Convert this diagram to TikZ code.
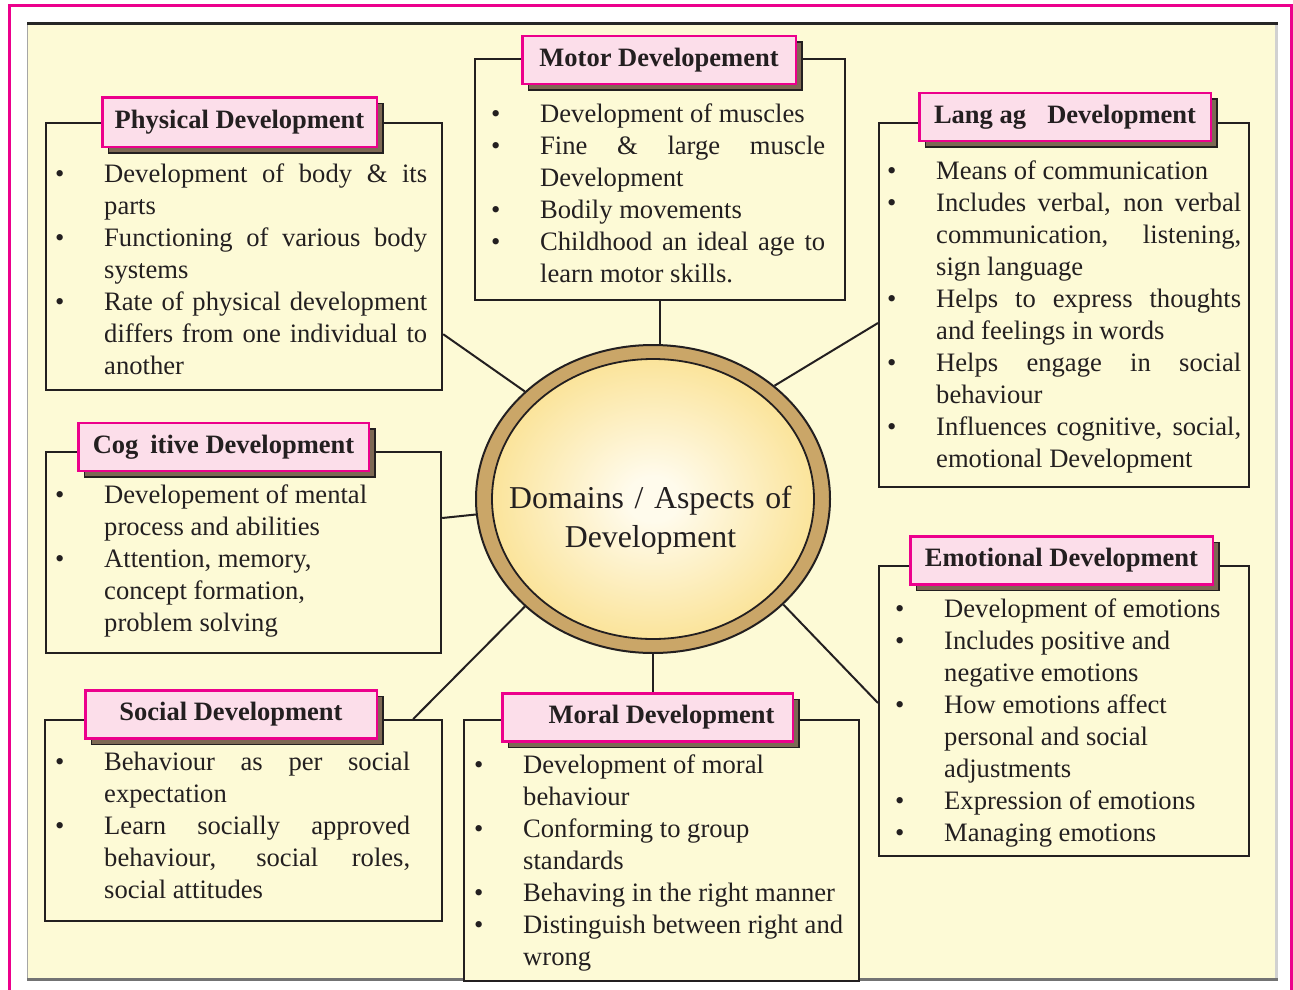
\documentclass[tikz,border=0pt]{standalone}
\usepackage{fontspec}
\setmainfont{Liberation Serif}
\usepackage{xcolor}
\usetikzlibrary{shapes.geometric, positioning, calc, shadows}
\tolerance=10000
\hyphenpenalty=10000
\exhyphenpenalty=10000

\definecolor{framepink}{RGB}{236,0,140}
\definecolor{panelcream}{RGB}{253,250,214}
\definecolor{tabfill}{RGB}{252,222,234}
\definecolor{tabshadow}{RGB}{125,104,84}
\definecolor{ringtan}{RGB}{202,166,104}
\definecolor{ink}{RGB}{35,31,32}
\definecolor{coreedge}{RGB}{249,218,120}
\definecolor{corecentre}{RGB}{255,251,236}
\pgfdeclareradialshading{coreglow}{\pgfpointorigin}{color(0bp)=(corecentre); color(4bp)=(corecentre); color(34bp)=(coreedge); color(50bp)=(coreedge)}

\newcommand{\bodyfont}{\fontsize{26.6}{32}\selectfont}
\newcommand{\titlefont}{\fontsize{26.5}{32}\selectfont\bfseries}
\newcommand{\bitem}[1]{\noindent\hangindent=49pt\hangafter=1\makebox[49pt][l]{\textbullet}\strut #1\par}

\tikzstyle{domainbox} = [rectangle, draw=ink, line width=2.2pt, fill=panelcream, anchor=north west, inner sep=0pt]
\tikzstyle{titletab} = [rectangle, draw=framepink, line width=2.5pt, fill=tabfill, minimum height=48pt, inner sep=0pt, font=\titlefont, text=ink, anchor=west, copy shadow={shadow xshift=6pt, shadow yshift=-6pt, fill=tabshadow, draw=ink, line width=1.5pt}]
\tikzstyle{bullets} = [anchor=north west, inner sep=0pt, align=justify, font=\bodyfont, text=ink]
\tikzstyle{link} = [draw=ink, line width=2pt]

\begin{document}
\begin{tikzpicture}[x=1pt, y=-1pt]
        \useasboundingbox (0,0) rectangle (1293,990);

        % Page and panel
        \fill[white] (0,0) rectangle (1293,990);
        \draw[framepink, line width=3pt] (9,5.3) rectangle (1291.5,1000);
        \fill[panelcream] (27,23) rectangle (1278,980);
        \draw[black!35, line width=1pt] (27.5,23) -- (27.5,980);
        \draw[black!18, line width=3pt] (1276.5,23) -- (1276.5,980);
        \draw[black!55, line width=2.5pt] (27,979.5) -- (1278,979.5);
        \draw[black!85, line width=2.5pt] (27,23.5) -- (1278,23.5);

        % Domain boxes
        \node (phys) [domainbox, minimum width=396pt, minimum height=267pt] at (45,122) {};
        \node (motor) [domainbox, minimum width=370pt, minimum height=241pt] at (474,58) {};
        \node (lang) [domainbox, minimum width=370pt, minimum height=364pt] at (878,122) {};
        \node (cogn) [domainbox, minimum width=395pt, minimum height=201pt] at (45,451) {};
        \node (emot) [domainbox, minimum width=370pt, minimum height=290pt] at (878,565) {};
        \node (social) [domainbox, minimum width=397pt, minimum height=201pt] at (44,719) {};
        \node (moral) [domainbox, minimum width=395pt, minimum height=261pt] at (463,719) {};

        % Centre
        \node (centre) [ellipse, draw=ink, line width=2pt, fill=ringtan, minimum width=354pt, minimum height=308pt] at (653,499) {};
        \node (core) [ellipse, draw=ink, line width=1.8pt, shading=coreglow, minimum width=322pt, minimum height=280pt] at (centre.center) {};
        \node (centretext) [font=\fontsize{31.8}{39}\selectfont, text=ink, text width=330pt, align=center, anchor=north, inner sep=0pt] at (650.5,480.7) {\strut Domains / Aspects of\\ Development};

        % Titles
        \node (physt) [titletab, minimum width=274.5pt, minimum height=49.5pt] at ([xshift=56pt]phys.north west) {Physical Development};
        \node (motort) [titletab, minimum width=273.5pt] at ([xshift=47pt, yshift=-2pt]motor.north west) {Motor Developement};
        \node (langt) [titletab, minimum width=291.5pt] at ([xshift=40pt, yshift=5pt]lang.north west) {Lang ag\hspace{0.8em}Development};
        \node (cognt) [titletab, minimum width=290.5pt] at ([xshift=32pt, yshift=4pt]cogn.north west) {Cog\hspace{0.45em}itive Development};
        \node (emott) [titletab, minimum width=302.5pt] at ([xshift=31pt, yshift=4.5pt]emot.north west) {Emotional Development};
        \node (socialt) [titletab, minimum width=291.5pt] at ([xshift=40pt, yshift=4.5pt]social.north west) {Social Development};
        \node (moralt) [titletab, minimum width=290.5pt] at ([xshift=38pt, yshift=1.5pt]moral.north west) {\hspace*{28pt}Moral Development};

        % Links
        \draw [link] ([yshift=57pt]phys.south east) -- (centre.140);
        \draw [link] (motor.south) -- (motor.south |- centre.north);
        \draw [link] ([yshift=-201pt]lang.north west) -- (centre.43);
        \draw [link] ([yshift=-67pt]cogn.north east) -- (centre.185);
        \draw [link] ([yshift=-138pt]emot.north west) -- (centre.321);
        \draw [link] ([xshift=-30pt]social.north east) -- (centre.220);
        \draw [link] (centre.south) -- (centre.south |- moralt.north);

        % Points
        \node (physl) [bullets, text width=372pt] at (55,159.6) {%
          \bitem{Development of body \& its\linebreak parts}
          \bitem{Functioning of various body\linebreak systems}
          \bitem{Rate of physical development\linebreak differs from one individual to\linebreak another}};
        \node (motorl) [bullets, text width=334pt] at (491,99.6) {%
          \bitem{Development of muscles}
          \bitem{Fine \& large muscle\linebreak Development}
          \bitem{Bodily movements}
          \bitem{Childhood an ideal age to\linebreak learn motor skills.}};
        \node (langl) [bullets, text width=354pt] at (887,156.6) {%
          \bitem{Means of communication}
          \bitem{Includes verbal, non verbal\linebreak communication, listening,\linebreak sign language}
          \bitem{Helps to express thoughts\linebreak and feelings in words}
          \bitem{Helps engage in social\linebreak behaviour}
          \bitem{Influences cognitive, social,\linebreak emotional Development}};
        \node (cognl) [bullets, text width=372pt] at (55,480.6) {%
          \bitem{Developement of mental\\ process and abilities}
          \bitem{Attention, memory,\\ concept formation,\\ problem solving}};
        \node (emotl) [bullets, text width=349pt] at (895,594.6) {%
          \bitem{Development of emotions}
          \bitem{Includes positive and\\ negative emotions}
          \bitem{How emotions affect\\ personal and social\\ adjustments}
          \bitem{Expression of emotions}
          \bitem{Managing emotions}};
        \node (sociall) [bullets, text width=355pt] at (55,747.6) {%
          \bitem{Behaviour as per social\linebreak expectation}
          \bitem{Learn socially approved\linebreak behaviour, social roles,\linebreak social attitudes}};
        \node (morall) [bullets, text width=379pt] at (474,750.6) {%
          \bitem{Development of moral\\ behaviour}
          \bitem{Conforming to group\\ standards}
          \bitem{Behaving in the right manner}
          \bitem{Distinguish between right and\\ wrong}};
      \end{tikzpicture}
\end{document}
